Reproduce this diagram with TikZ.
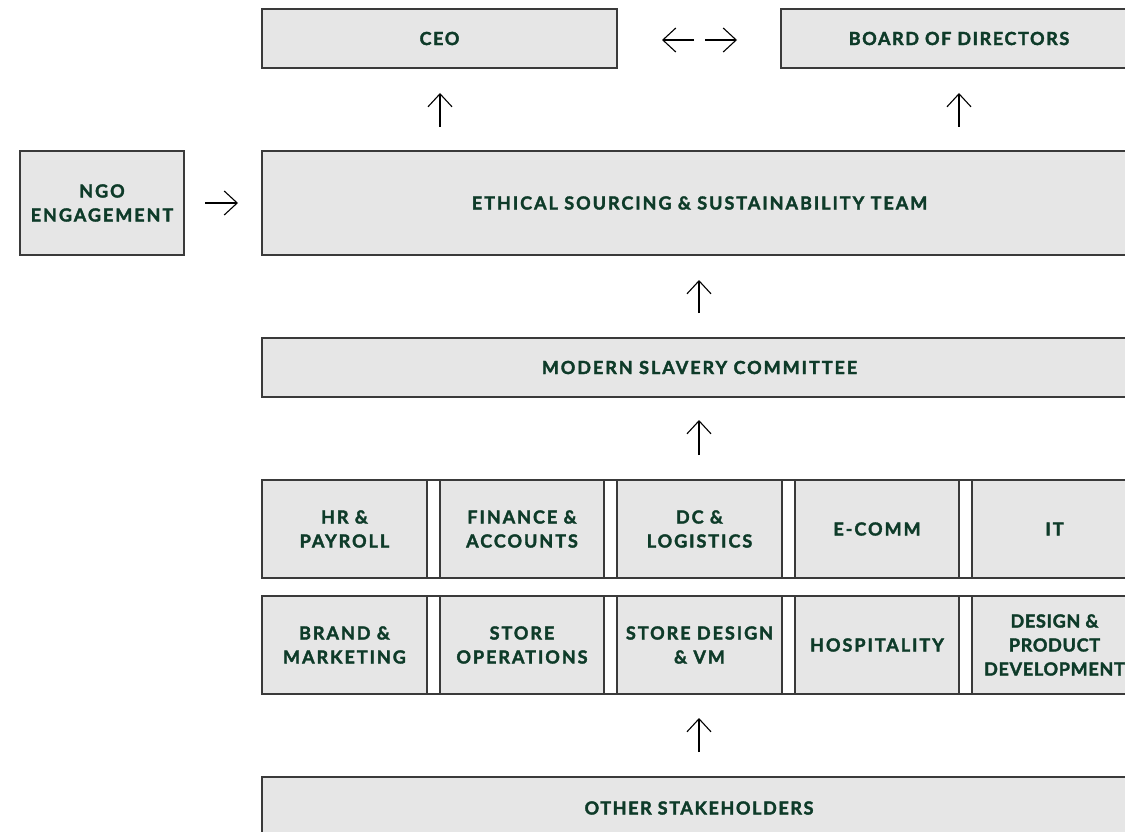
\documentclass[tikz,border=0pt]{standalone}
\usepackage{fontspec}
\setmainfont{Lato}
\newfontfamily\spacedfont{Lato}[LetterSpace=11, BoldFeatures={FakeBold=2}]
\newfontfamily\tightfont{Lato}[LetterSpace=4, BoldFeatures={FakeBold=2}]
\newfontfamily\plainfont{Lato}[LetterSpace=9, BoldFeatures={FakeBold=2}]
\usetikzlibrary{arrows.meta}
\definecolor{boxfill}{HTML}{E6E6E6}
\definecolor{boxline}{HTML}{3A3A3A}
\definecolor{txtgreen}{HTML}{0E3B29}
\tikzset{
  unit/.style={draw=boxline, line width=1.1pt, fill=boxfill, inner sep=0pt, outer sep=0pt, anchor=north west,
    text=txtgreen, align=center, font=\spacedfont\bfseries\fontsize{18}{24}\selectfont},
  narrowunit/.style={unit, font=\plainfont\bfseries\fontsize{18}{24}\selectfont},
  flow/.style={-{Straight Barb[length=13pt,width=24pt,line width=1.1pt]}, line width=1.1pt, black},
}
\begin{document}
\begin{tikzpicture}[x=1pt,y=-1pt]
\useasboundingbox (0,0) rectangle (1125,832);
\clip (0,0) rectangle (1125,832);
% top row
\node[narrowunit, minimum width=355pt, minimum height=59pt] (ceo) at (262,9) {CEO};
\node[narrowunit, minimum width=356pt, minimum height=59pt] (board) at (781,9) {BOARD OF DIRECTORS};
% middle
\node[unit, minimum width=164pt, minimum height=104pt] (ngo) at (20,151) {NGO\\ENGAGEMENT};
\node[unit, minimum width=875pt, minimum height=104pt] (esst) at (262,151) {ETHICAL SOURCING \& SUSTAINABILITY TEAM};
\node[unit, minimum width=875pt, minimum height=59pt] (msc) at (262,338) {MODERN SLAVERY COMMITTEE};
% grid row 1
\node[unit, minimum width=165pt, minimum height=98pt] (hr) at (262,480) {HR \&\\PAYROLL};
\node[unit, minimum width=164pt, minimum height=98pt] (fin) at (440,480) {FINANCE \&\\ACCOUNTS};
\node[unit, minimum width=165pt, minimum height=98pt] (dc) at (617,480) {DC \&\\LOGISTICS};
\node[unit, minimum width=164pt, minimum height=98pt] (ecomm) at (795,480) {E-COMM};
\node[unit, minimum width=165pt, minimum height=98pt] (it) at (972,480) {IT};
% grid row 2
\node[unit, minimum width=165pt, minimum height=98pt] (brand) at (262,596) {BRAND \&\\MARKETING};
\node[unit, minimum width=164pt, minimum height=98pt] (store) at (440,596) {STORE\\OPERATIONS};
\node[unit, minimum width=165pt, minimum height=98pt] (sdvm) at (617,596) {STORE DESIGN\\\& VM};
\node[unit, minimum width=164pt, minimum height=98pt] (hosp) at (795,596) {HOSPITALITY};
\node[unit, minimum width=165pt, minimum height=98pt, font=\tightfont\bfseries\fontsize{18}{24}\selectfont] (dpd) at (972,596) {DESIGN \&\\PRODUCT\\DEVELOPMENT};
% row frame lines across gaps
\draw[boxline, line width=1.1pt] (hr.north west) -- (it.north east);
\draw[boxline, line width=1.1pt] (hr.south west) -- (it.south east);
\draw[boxline, line width=1.1pt] (brand.north west) -- (dpd.north east);
\draw[boxline, line width=1.1pt] (brand.south west) -- (dpd.south east);
% bottom
\node[narrowunit, minimum width=875pt, minimum height=80pt] (other) at (262,777) {};
\node[text=txtgreen, font=\plainfont\bfseries\fontsize{18}{24}\selectfont] (othertxt) at (699,808) {OTHER STAKEHOLDERS};
% arrows
\coordinate (a1s) at (440,127); \coordinate (a1e) at (440,93);
\coordinate (a2s) at (959,127); \coordinate (a2e) at (959,93);
\coordinate (a3s) at (694,40); \coordinate (a3e) at (662,40);
\coordinate (a4s) at (705,40); \coordinate (a4e) at (737,40);
\coordinate (a5s) at (205,203); \coordinate (a5e) at (238,203);
\coordinate (a6s) at (699,313); \coordinate (a6e) at (699,280);
\coordinate (a7s) at (699,455); \coordinate (a7e) at (699,420);
\coordinate (a8s) at (699,752); \coordinate (a8e) at (699,718);
\draw[flow] (a1s) -- (a1e);
\draw[flow] (a2s) -- (a2e);
\draw[flow] (a3s) -- (a3e);
\draw[flow] (a4s) -- (a4e);
\draw[flow] (a5s) -- (a5e);
\draw[flow] (a6s) -- (a6e);
\draw[flow] (a7s) -- (a7e);
\draw[flow] (a8s) -- (a8e);
\end{tikzpicture}
\end{document}
